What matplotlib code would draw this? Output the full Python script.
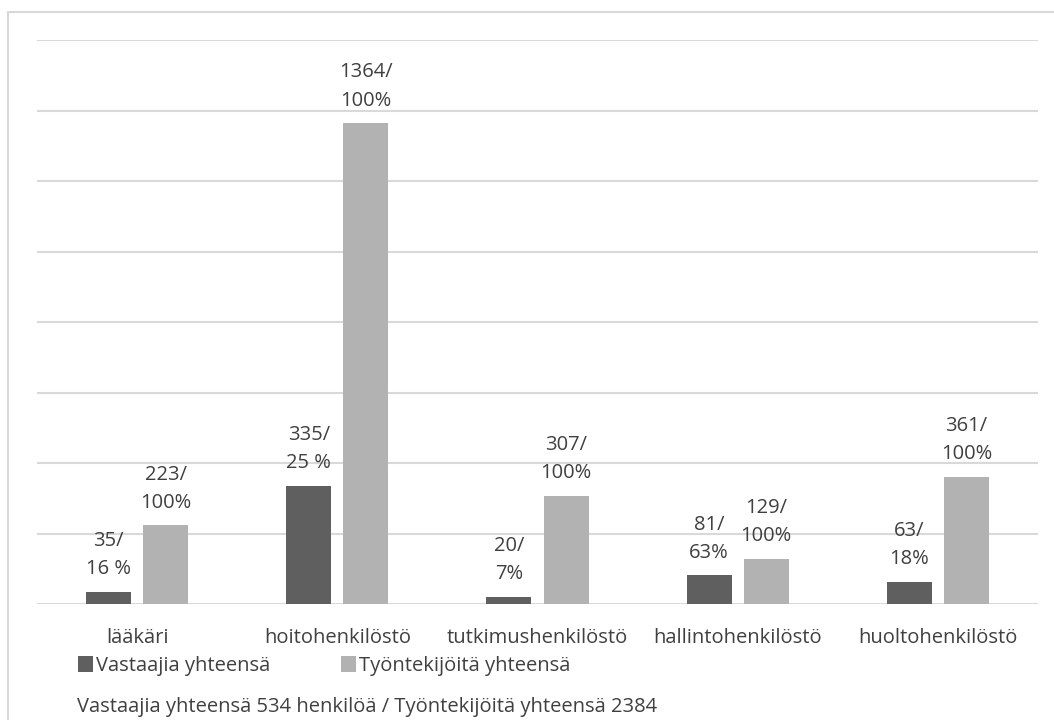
import numpy as np
import matplotlib.pyplot as plt
from matplotlib.patches import Rectangle

categories = ['lääkäri', 'hoitohenkilöstö', 'tutkimushenkilöstö',
              'hallintohenkilöstö', 'huoltohenkilöstö']
respondents = [35, 335, 20, 81, 63]
employees = [223, 1364, 307, 129, 361]
resp_pct = ['16 %', '25 %', '7%', '63%', '18%']
emp_pct = ['100%', '100%', '100%', '100%', '100%']
series_names = ['Vastaajia yhteensä', 'Työntekijöitä yhteensä']
footnote = 'Vastaajia yhteensä 534 henkilöä / Työntekijöitä yhteensä 2384'

dark = '#5f5f5f'
light = '#b2b2b2'
txt = '#404040'
grid = '#d9d9d9'

plt.rcParams['font.family'] = ['Open Sans', 'DejaVu Sans']
fs = 14.5

fig = plt.figure(figsize=(10.54, 7.2), dpi=100)
W, H = 1054, 720
ax = fig.add_axes([37 / W, 1 - 604 / H, (1038 - 37) / W, (604 - 40) / H])

x = np.arange(len(categories))
w = 0.225
off = w / 2 + 0.03
b1 = ax.bar(x - off, respondents, w, color=dark, label=series_names[0])
b2 = ax.bar(x + off, employees, w, color=light, label=series_names[1])

# value / share labels above each bar
for bars, vals, pcts in ((b1, respondents, resp_pct), (b2, employees, emp_pct)):
    for r, v, p in zip(bars, vals, pcts):
        ax.annotate(f'{v}/\n{p}', (r.get_x() + r.get_width() / 2, v),
                    xytext=(0, 9), textcoords='offset points',
                    ha='center', va='bottom', fontsize=fs, color=txt,
                    linespacing=1.55)

ax.set_xlim(-0.5, len(categories) - 0.5)
ax.set_ylim(0, 1600)
ax.set_yticks(np.arange(0, 1601, 200))
ax.yaxis.grid(True, color=grid, linewidth=1.5)
ax.set_axisbelow(True)
ax.tick_params(axis='y', left=False, labelleft=False)
ax.tick_params(axis='x', length=0, pad=17.5, labelsize=fs, labelcolor=txt)
ax.set_xticks(x)
ax.set_xticklabels(categories)
for s in ax.spines.values():
    s.set_visible(False)

leg = ax.legend(loc='upper left', bbox_to_anchor=(78 / W, 1 - 656 / H),
                bbox_transform=fig.transFigure, ncol=2, frameon=False,
                fontsize=fs, handlelength=0.72, handleheight=0.78,
                handletextpad=0.15, columnspacing=3.55, borderpad=0,
                borderaxespad=0)
for t in leg.get_texts():
    t.set_color(txt)

fig.text(77 / W, 1 - 712 / H, footnote, fontsize=fs, color=txt,
         va='baseline', ha='left')

# light frame around the chart area
fig.patches.append(Rectangle((7.5 / W, -0.1), 1.2, 1 - 11.5 / H + 0.1,
                             transform=fig.transFigure, fill=False,
                             edgecolor=grid, linewidth=1.5))

fig.savefig('out.png', dpi=100)
